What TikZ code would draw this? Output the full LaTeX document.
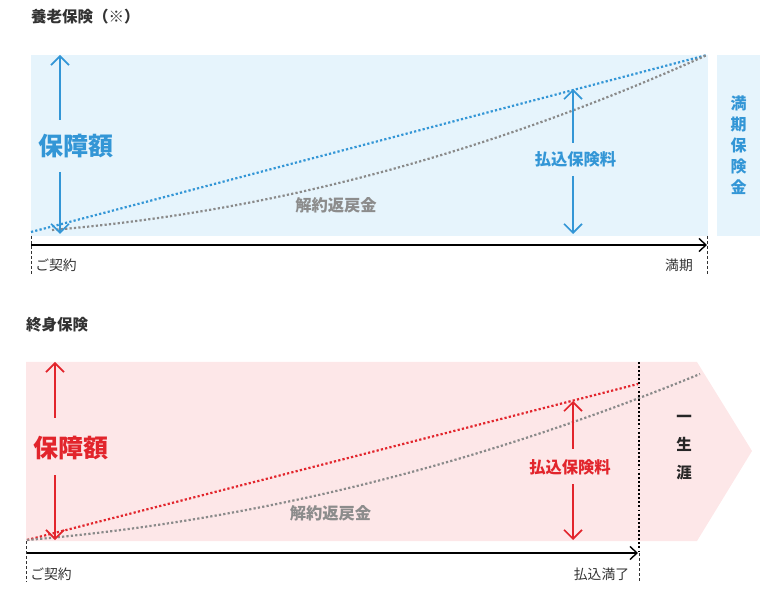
\documentclass[tikz,border=0pt]{standalone}
\usepackage{fontspec}
\newfontfamily\cjk{Noto Sans CJK JP}
\usetikzlibrary{arrows.meta}
\definecolor{blueC}{HTML}{3396D6}
\definecolor{blueBg}{HTML}{E6F4FC}
\definecolor{redC}{HTML}{E2252C}
\definecolor{pinkBg}{HTML}{FDE7E8}
\definecolor{grayDot}{HTML}{8A8A8A}
\definecolor{grayTxt}{HTML}{8C8C8C}
\definecolor{darkTxt}{HTML}{333333}
\tikzset{
  dotline/.style={line width=2.2pt, dash pattern=on 2.2pt off 2.2pt},
  axis/.style={line width=1.4pt, black, -{Straight Barb[length=7pt,width=13pt,line width=1.4pt]}},
  tickdash/.style={line width=0.9pt, black!80, dash pattern=on 3pt off 2pt},
  amtarrow/.style={line width=1.6pt, -{Straight Barb[length=9pt,width=18pt,line width=1.6pt]}},
  title/.style={font=\cjk\bfseries\fontsize{15.5}{18}\selectfont, text=darkTxt, inner sep=0pt},
  axlabel/.style={font=\cjk\fontsize{13.8}{16}\selectfont, text=darkTxt, inner sep=0pt},
  biglabel/.style={font=\cjk\bfseries\fontsize{25}{28}\selectfont, inner sep=0pt},
  midlabel/.style={font=\cjk\bfseries\fontsize{16.3}{19}\selectfont, inner sep=0pt},
  graylabel/.style={font=\cjk\bfseries\fontsize{16.3}{19}\selectfont, text=grayTxt, inner sep=0pt},
}
\begin{document}
\begin{tikzpicture}[x=1pt,y=-1pt]
\useasboundingbox (0,0) rectangle (774,601);

% ===== top: 養老保険 =====
\node[title, anchor=west] (t1) at (31,17) {養老保険（※）};
\fill[blueBg] (31,55) rectangle (708,236);
\fill[blueBg] (717,55) rectangle (760,236);
\node[font=\cjk\bfseries\fontsize{16}{21}\selectfont, text=blueC, align=center, inner sep=0pt] (mk) at (738.5,145) {満\\期\\保\\険\\金};

\coordinate (a0) at (31,232);
\coordinate (a1) at (707,55);
\coordinate (g0) at (52,230);
\draw[dotline, blueC] (a0) -- (a1);
\draw[dotline, grayDot] (g0) .. controls (270.3,211.8) and (488.7,153.5) .. (a1);

\coordinate (ax0) at (31,245);
\coordinate (ax1) at (707,245);
\draw[axis] (ax0) -- (ax1);
\coordinate (d0a) at (31,236); \coordinate (d0b) at (31,275);
\coordinate (d1a) at (707,236); \coordinate (d1b) at (707,275);
\draw[tickdash] (d0a) -- (d0b);
\draw[tickdash] (d1a) -- (d1b);
\node[axlabel] (c1) at (56,265) {ご契約};
\node[axlabel] (m1) at (679,265) {満期};

\node[biglabel, text=blueC] (h1) at (76,146) {保障額};
\coordinate (h1t) at (60,55); \coordinate (h1u) at (60,120);
\coordinate (h1d) at (60,172); \coordinate (h1b) at (60,234);
\draw[amtarrow, blueC] (h1u) -- (h1t);
\draw[amtarrow, blueC] (h1d) -- (h1b);

\node[midlabel, text=blueC] (p1) at (575.5,159) {払込保険料};
\coordinate (p1t) at (573,89); \coordinate (p1u) at (573,143);
\coordinate (p1d) at (573,176); \coordinate (p1b) at (573,234);
\draw[amtarrow, blueC] (p1u) -- (p1t);
\draw[amtarrow, blueC] (p1d) -- (p1b);

\node[graylabel] (k1) at (336,205) {解約返戻金};

% ===== bottom: 終身保険 =====
\node[title, anchor=west] (t2) at (26,325) {終身保険};
\fill[pinkBg] (26,362) -- (697,362) -- (752,451) -- (697,541) -- (26,541) -- cycle;

\coordinate (r0) at (27,540);
\coordinate (r1) at (638,384);
\coordinate (q1) at (700,374);
\draw[dotline, redC] (r0) -- (r1);
\draw[dotline, grayDot] (r0) .. controls (251.3,521.2) and (475.7,465.9) .. (q1);

\coordinate (v0) at (639,362); \coordinate (v1) at (639,553);
\draw[line width=1.9pt, black, dash pattern=on 1.9pt off 2.2pt] (v0) -- (v1);
\coordinate (v2) at (639,582);
\draw[tickdash] (v1) -- (v2);

\coordinate (bx0) at (26,553);
\coordinate (bx1) at (638,553);
\draw[axis] (bx0) -- (bx1);
\coordinate (e0a) at (26,541); \coordinate (e0b) at (26,582);
\draw[tickdash] (e0a) -- (e0b);
\node[axlabel] (c2) at (51,574) {ご契約};
\node[axlabel] (m2) at (601.5,574) {払込満了};

\node[biglabel, text=redC] (h2) at (71,448) {保障額};
\coordinate (h2t) at (55,362); \coordinate (h2u) at (55,418);
\coordinate (h2d) at (55,475); \coordinate (h2b) at (55,540);
\draw[amtarrow, redC] (h2u) -- (h2t);
\draw[amtarrow, redC] (h2d) -- (h2b);

\node[midlabel, text=redC] (p2) at (570,467) {払込保険料};
\coordinate (p2t) at (573,401); \coordinate (p2u) at (573,449);
\coordinate (p2d) at (573,484); \coordinate (p2b) at (573,540);
\draw[amtarrow, redC] (p2u) -- (p2t);
\draw[amtarrow, redC] (p2d) -- (p2b);

\node[graylabel] (k2) at (330.5,513) {解約返戻金};

\node[font=\cjk\bfseries\fontsize{15.5}{28}\selectfont, text=black!85, align=center, inner sep=0pt] (ls) at (684,448) {一\\生\\涯};
\end{tikzpicture}
\end{document}
